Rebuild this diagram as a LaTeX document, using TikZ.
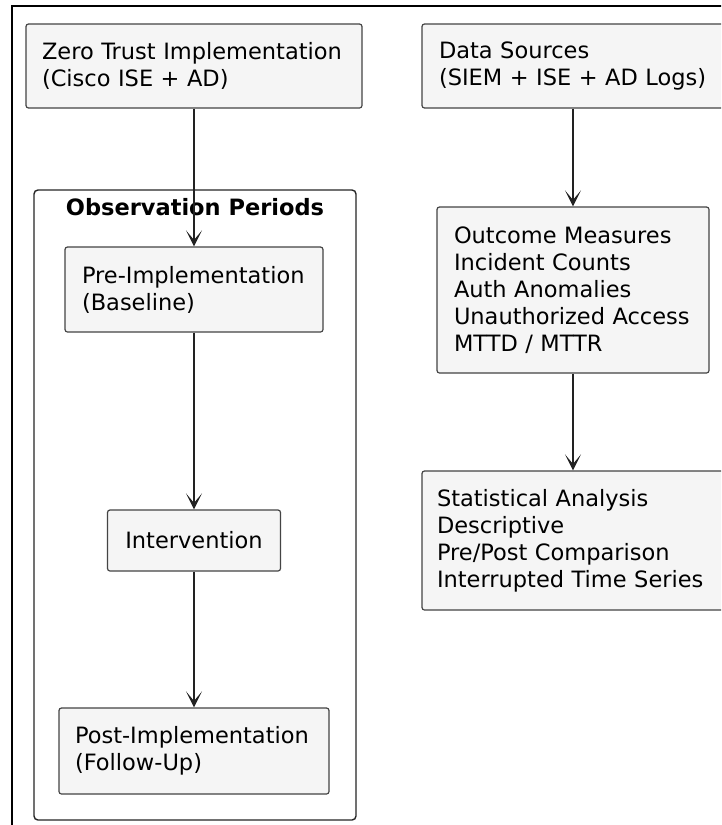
\documentclass[tikz,border=0pt]{standalone}
\usepackage{fontspec}
\setmainfont{DejaVu Sans}
\usetikzlibrary{arrows.meta}
\definecolor{boxfill}{HTML}{F5F5F5}
\definecolor{boxline}{HTML}{444444}
\definecolor{arrowline}{HTML}{222222}
\tikzset{
  box/.style={draw=boxline, line width=1.2pt, fill=boxfill, rounded corners=2.5pt,
    inner xsep=17pt, inner ysep=0pt, align=left,
    font=\fontsize{22.5}{26.9}\selectfont},
  cluster/.style={draw=black!85, line width=1.4pt, rounded corners=4pt},
  flow/.style={draw=arrowline, line width=1.3pt,
    -{Stealth[length=16pt,width=16pt,inset=9.5pt]}},
}
\begin{document}
\begin{tikzpicture}[x=1pt,y=-1pt]
  \useasboundingbox (0,0) rectangle (721,825);
  \clip (0,0) rectangle (721,825);
  \fill[white] (0,0) rectangle (721,825);

  % outer frame
  \draw[black, line width=2.5pt] (12,6) rectangle (760,860);

  % observation periods group
  \draw[cluster] (34,190) rectangle (356,820);
  \node[font=\fontsize{22.5}{26.9}\selectfont\bfseries] (title) at (195,207) {Observation Periods};

  % left column
  \node[box, inner xsep=16pt, text width=304pt, minimum height=84pt] (zt) at (194,66)
    {Zero Trust Implementation\\(Cisco ISE + AD)};
  \node[box, text width=224pt, minimum height=85pt] (pre) at (194,289.5)
    {Pre-Implementation\\(Baseline)};
  \node[box, align=center, inner xsep=10pt, minimum width=173pt, minimum height=61pt] (inter) at (194,540.5)
    {Intervention};
  \node[box, inner xsep=16pt, text width=238pt, minimum height=86pt] (post) at (194,751)
    {Post-Implementation\\(Follow-Up)};

  % right column
  \node[box, text width=268pt, minimum height=84pt] (ds) at (573,66)
    {Data Sources\\(SIEM + ISE + AD Logs)};
  \node[box, text width=238pt, minimum height=166pt] (om) at (573,290)
    {Outcome Measures\\Incident Counts\\Auth Anomalies\\Unauthorized Access\\MTTD / MTTR};
  \node[box, inner xsep=15pt, text width=272pt, minimum height=139pt] (st) at (573,540.5)
    {Statistical Analysis\\Descriptive\\Pre/Post Comparison\\Interrupted Time Series};

  % connectors
  \draw[flow] (zt) -- (pre);
  \draw[flow] (pre) -- (inter);
  \draw[flow] (inter) -- (post);
  \draw[flow] (ds) -- (om);
  \draw[flow] (om) -- (st);
\end{tikzpicture}
\end{document}
